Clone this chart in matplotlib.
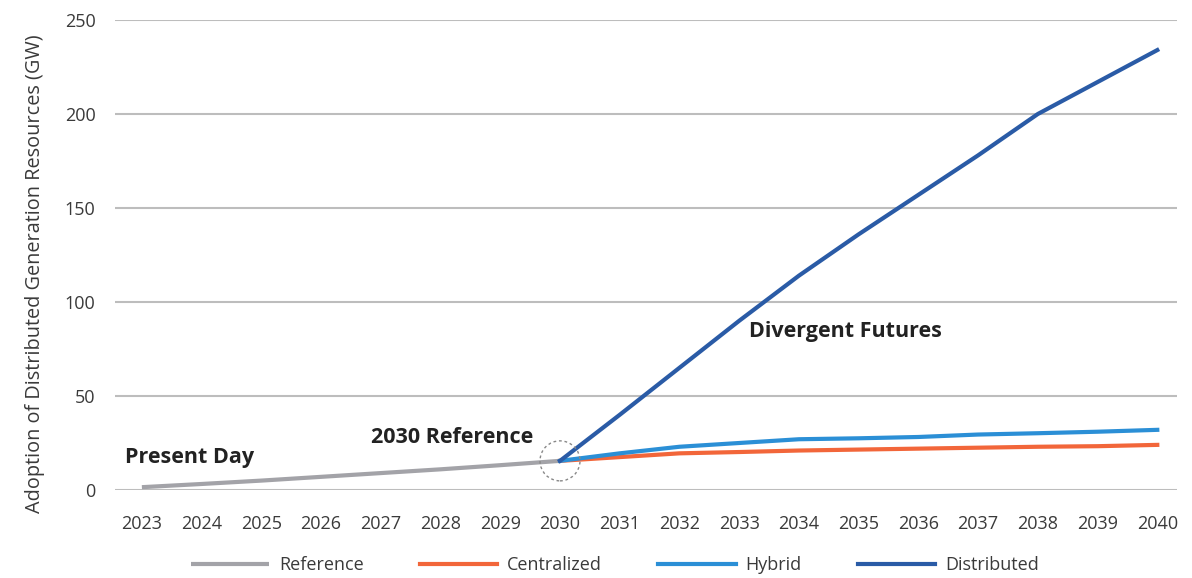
import matplotlib.pyplot as plt
from matplotlib.patches import Ellipse

plt.rcParams['font.family'] = ['Open Sans', 'DejaVu Sans']

years_ref = [2023, 2024, 2025, 2026, 2027, 2028, 2029, 2030]
reference = [1.5, 3.2, 5.0, 7.0, 9.0, 11.0, 13.2, 15.5]

years_fut = [2030, 2031, 2032, 2033, 2034, 2035, 2036, 2037, 2038, 2039, 2040]
centralized = [15.5, 17.5, 19.5, 20.2, 21.0, 21.5, 22.0, 22.5, 23.0, 23.3, 24.0]
hybrid = [15.5, 19.5, 23.0, 25.0, 27.0, 27.5, 28.2, 29.5, 30.2, 31.0, 32.0]
distributed = [15.5, 40.0, 65.0, 90.0, 114.0, 136.0, 157.0, 178.0, 200.0, 217.0, 234.0]

colors = {
    'Reference': '#a3a3a8',
    'Centralized': '#f2663a',
    'Hybrid': '#2b8fd6',
    'Distributed': '#2a5ba6',
}

fig = plt.figure(figsize=(11.92, 5.78), dpi=100)
ax = fig.add_axes([115 / 1192, 1 - 490 / 578, (1177 - 115) / 1192, (490 - 20) / 578])

ax.plot(years_ref, reference, color=colors['Reference'], lw=3, label='Reference', solid_capstyle='butt')
ax.plot(years_fut, centralized, color=colors['Centralized'], lw=3, label='Centralized')
ax.plot(years_fut, hybrid, color=colors['Hybrid'], lw=3, label='Hybrid')
ax.plot(years_fut, distributed, color=colors['Distributed'], lw=3, label='Distributed')

# dashed circle around the 2030 branch point
ax.add_patch(Ellipse((2030, 15.5), width=40 / 59.7, height=40 / 1.88, fill=False,
                     ls=(0, (2, 2)), lw=1, color='#888888', zorder=5))

ax.set_xlim(2022.55, 2040.33)
ax.set_ylim(0, 250)
ax.set_xticks(range(2023, 2041))
ax.set_yticks([0, 50, 100, 150, 200, 250])
ax.grid(axis='y', color='#bdbdbd', lw=1.5)
ax.set_axisbelow(True)
for s in ax.spines.values():
    s.set_visible(False)
ax.tick_params(length=0, labelsize=13, colors='#3a3a3a')
ax.tick_params(axis='x', pad=18)
ax.tick_params(axis='y', pad=14)
ax.set_ylabel('Adoption of Distributed Generation Resources (GW)', fontsize=14.3,
              color='#3a3a3a')
ax.yaxis.set_label_coords(-0.066, 0.46)

ax.text(2022.72, 17.5, 'Present Day', fontsize=15.5, fontweight='bold', color='#222222', va='center')
ax.text(2028.2, 28, '2030 Reference', fontsize=15.5, fontweight='bold', color='#222222',
        va='center', ha='center')
ax.text(2033.17, 84.5, 'Divergent Futures', fontsize=15.5, fontweight='bold', color='#222222',
        va='center')

fig.legend(loc='lower center', bbox_to_anchor=(0.516, -0.022), ncol=4, frameon=False,
           handlelength=4.3, handletextpad=0.55, columnspacing=3.1, fontsize=13,
           labelcolor='#3a3a3a')

fig.savefig('out.png', dpi=100)
